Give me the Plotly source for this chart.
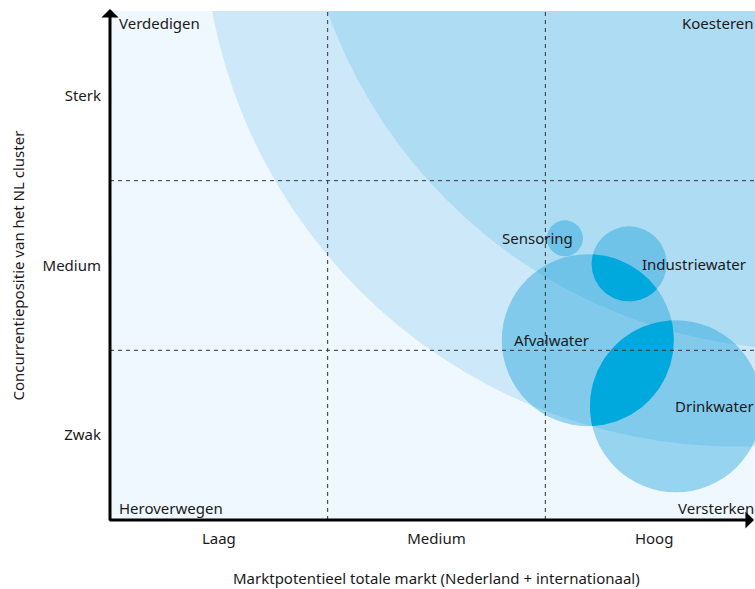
import numpy as np
import plotly.graph_objects as go

# ---------------- data ----------------
segments = ["Sensoring", "Industriewater", "Afvalwater", "Drinkwater"]
market_potential = [2.09, 2.385, 2.195, 2.60]       # x: Laag / Medium / Hoog (0..3)
competitive_position = [1.66, 1.51, 1.06, 0.67]     # y: Zwak / Medium / Sterk (0..3)
bubble_value = [36, 75, 172, 172]                   # bubble diameter value

x_tick_vals = [0.5, 1.5, 2.5]
x_tick_labels = ["Laag", "Medium", "Hoog"]
y_tick_vals = [0.5, 1.5, 2.5]
y_tick_labels = ["Zwak", "Medium", "Sterk"]
quadrant_labels = ["Verdedigen", "Koesteren", "Heroverwegen", "Versterken"]

x_title = "Marktpotentieel totale markt (Nederland + internationaal)"
y_title = "Concurrentiepositie van het NL cluster"

# background bands (center in data units, radius in px)
band_centers = [(2.88, 3.58), (3.205, 4.01)]
band_radius_px = [534, 510]

# ---------------- styles / layout ----------------
W, H = 755, 589
ML, MR, MT, MB = 110, 0, 11, 69
FULL_X = 3.0
pw, ph = W - ML - MR, H - MT - MB
sy = ph / 3.0
sx = 653 / FULL_X                 # full quadrant width runs past the page edge
X_MAX = pw / sx
Y_MAX = 3.0

FONT = "Noto Sans"
FS = 15
TXT = "#1a1a1a"
band_colors = ["#cde9f9", "#aedcf3"]
bubble_color = "rgba(10,154,216,0.55)"
overlap_color = "#00a9dd"
label_anchor = ["right", "left", "right", "left"]
label_shift_px = [10, 11, 3, -3]

fig = go.Figure()

# bubbles
fig.add_trace(go.Scatter(
    x=market_potential, y=competitive_position, mode="markers",
    marker=dict(size=bubble_value, sizemode="diameter", sizeref=1,
                color=bubble_color, line=dict(width=0)),
    hoverinfo="text", text=segments, showlegend=False,
))

# overlap lenses between bubbles (computed in pixel space)
def lens(i, j, n=80):
    ax_, ay_ = market_potential[i] * sx, competitive_position[i] * sy
    bx_, by_ = market_potential[j] * sx, competitive_position[j] * sy
    ra, rb = bubble_value[i] / 2, bubble_value[j] / 2
    d = np.hypot(bx_ - ax_, by_ - ay_)
    if d >= ra + rb or d <= abs(ra - rb):
        return None
    th = np.arctan2(by_ - ay_, bx_ - ax_)
    al = np.arccos((d * d + ra * ra - rb * rb) / (2 * d * ra))
    be = np.arccos((d * d + rb * rb - ra * ra) / (2 * d * rb))
    t1 = np.linspace(th - al, th + al, n)
    t2 = np.linspace(th + np.pi - be, th + np.pi + be, n)
    X = np.concatenate([ax_ + ra * np.cos(t1), bx_ + rb * np.cos(t2)])
    Y = np.concatenate([ay_ + ra * np.sin(t1), by_ + rb * np.sin(t2)])
    return X / sx, Y / sy

for i in range(len(segments)):
    for j in range(i + 1, len(segments)):
        res = lens(i, j)
        if res is None:
            continue
        lx, ly = res
        fig.add_trace(go.Scatter(
            x=lx, y=ly, mode="lines", fill="toself", fillcolor=overlap_color,
            line=dict(width=0, color="rgba(0,0,0,0)"), hoverinfo="skip",
            showlegend=False,
        ))

shapes = []
for (cx, cy), r, col in zip(band_centers, band_radius_px, band_colors):
    shapes.append(dict(type="circle", xref="x", yref="y", layer="below",
                       x0=cx - r / sx, x1=cx + r / sx, y0=cy - r / sy, y1=cy + r / sy,
                       fillcolor=col, line=dict(width=0)))
for v in [1, 2]:
    shapes.append(dict(type="line", xref="x", yref="y", layer="above",
                       x0=v, x1=v, y0=0, y1=Y_MAX,
                       line=dict(color="#333333", width=1, dash="4px,4px")))
    shapes.append(dict(type="line", xref="x", yref="y", layer="above",
                       x0=0, x1=X_MAX, y0=v, y1=v,
                       line=dict(color="#333333", width=1, dash="4px,4px")))

ann = []
# axis arrows (paper-referenced so they are never hidden)
ann.append(dict(x=0, y=1 + 2 / ph, xref="paper", yref="paper",
                ax=0, ay=ph + 4, text="", showarrow=True, arrowhead=1,
                arrowsize=0.95, arrowwidth=3, arrowcolor="black"))
x_tip = (FULL_X * sx) / pw
ann.append(dict(x=x_tip, y=0, xref="paper", yref="paper",
                ax=-(FULL_X * sx + 2), ay=0, text="", showarrow=True, arrowhead=1,
                arrowsize=0.95, arrowwidth=3, arrowcolor="black"))
# bubble labels
for s, xv, yv, anc, sh in zip(segments, market_potential, competitive_position,
                              label_anchor, label_shift_px):
    ann.append(dict(x=xv, y=yv, xref="x", yref="y", text=s, showarrow=False,
                    xanchor=anc, yanchor="middle", xshift=sh,
                    font=dict(family=FONT, size=FS, color=TXT)))
# quadrant labels
qpos = [(0, 1, "left", "top", 7), (1, 1, "right", "top", 1),
        (0, 0, "left", "bottom", 7), (1, 0, "right", "bottom", 1)]
for q, (qx, qy, xa, ya, xs) in zip(quadrant_labels, qpos):
    ann.append(dict(x=qx, y=qy, xref="paper", yref="paper", text=q, showarrow=False,
                    xanchor=xa, yanchor=ya, xshift=xs,
                    font=dict(family=FONT, size=FS, color=TXT)))
# axis titles
ann.append(dict(x=1.5 / X_MAX, y=-58 / ph, xref="paper", yref="paper", text=x_title,
                showarrow=False, xanchor="center", yanchor="middle",
                font=dict(family=FONT, size=FS, color=TXT)))
ann.append(dict(x=-(ML - 17) / pw, y=0.5, xref="paper", yref="paper", text=y_title,
                showarrow=False, xanchor="center", yanchor="middle", textangle=-90,
                font=dict(family=FONT, size=FS, color=TXT)))

fig.update_layout(
    width=W, height=H, margin=dict(l=ML, r=MR, t=MT, b=MB, pad=0),
    paper_bgcolor="white", plot_bgcolor="#eff8fe",
    font=dict(family=FONT, size=FS, color=TXT),
    shapes=shapes, annotations=ann, showlegend=False,
    xaxis=dict(range=[0, X_MAX], showgrid=False, zeroline=False, showline=False,
               tickvals=x_tick_vals, ticktext=x_tick_labels, ticks="",
               ticklabelstandoff=8, fixedrange=True),
    yaxis=dict(range=[0, Y_MAX], showgrid=False, zeroline=False, showline=False,
               tickvals=y_tick_vals, ticktext=y_tick_labels, ticks="",
               ticklabelstandoff=8, fixedrange=True),
)

fig.write_html(
    "out.html",
    config={"displayModeBar": False},
    post_script="document.body.style.margin='0';document.body.style.overflow='hidden';",
)
